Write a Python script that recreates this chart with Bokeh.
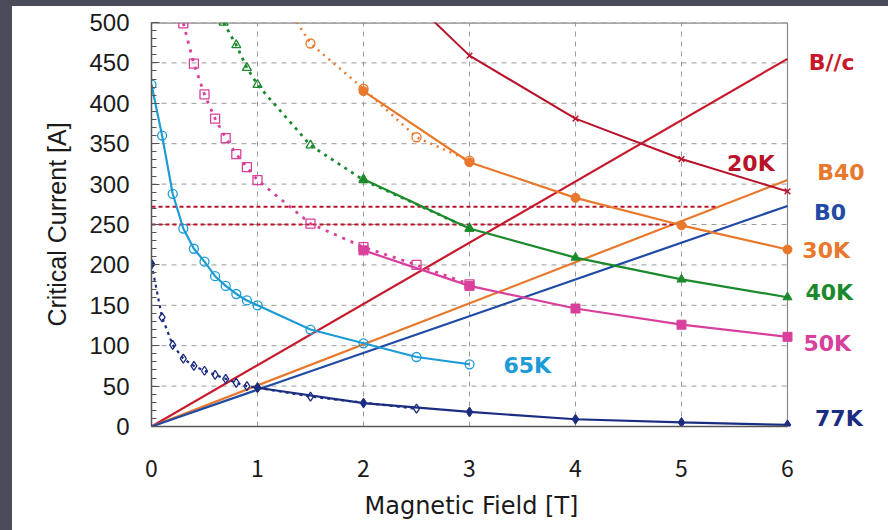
from bokeh.plotting import figure
from bokeh.models import Label, Range1d, FixedTicker, SingleIntervalTicker, Spacer, Title
from bokeh.layouts import row, column
from bokeh.embed import file_html
from bokeh.resources import INLINE

# ---------------- data ----------------
x_ticks = [0, 1, 2, 3, 4, 5, 6]
y_grid = [50, 100, 150, 200, 250, 300, 350, 400, 450, 500]

bc_x = [0, 6]
bc_y = [0, 455]
b40_x = [0, 6]
b40_y = [0, 305]
b0_x = [0, 6]
b0_y = [0, 273]

hline_y = [272, 250]
hline_end = [5.35, 4.95]

k20_x = [2.5, 3, 4, 5, 6]
k20_y = [522, 459, 381, 331, 291]

k30_x = [2, 3, 4, 5, 6]
k30_y = [415, 327, 283, 249, 219]
k30_open_x = [1.3, 1.5, 2.0, 2.5, 3.0]
k30_open_y = [515, 474, 418, 358, 329]

k40_x = [2, 3, 4, 5, 6]
k40_y = [306, 245, 209, 182, 160]
k40_open_x = [0.68, 0.8, 0.9, 1.0, 1.5, 2.0, 3.0]
k40_open_y = [500, 472, 444, 423, 348, 305, 245]

k50_x = [2, 3, 4, 5, 6]
k50_y = [218, 174, 146, 126, 111]
k50_open_x = [0.3, 0.4, 0.5, 0.6, 0.7, 0.8, 0.9, 1.0, 1.5, 2.0, 2.5, 3.0]
k50_open_y = [499, 449, 411, 381, 357, 337, 321, 305, 251, 222, 200, 176]

k65_x = [0, 0.1, 0.2, 0.3, 0.4, 0.5, 0.6, 0.7, 0.8, 0.9, 1.0, 1.5, 2.0, 2.5, 3.0]
k65_y = [423, 360, 288, 245, 220, 204, 186, 174, 164, 156, 150, 120, 103, 86, 77]

k77_x = [1, 2, 3, 4, 5, 6]
k77_y = [48, 29, 18, 9, 5, 2]
k77_open_x = [0, 0.1, 0.2, 0.3, 0.4, 0.5, 0.6, 0.7, 0.8, 0.9, 1.0, 1.5, 2.5]
k77_open_y = [201, 135, 101, 84, 75, 69, 64, 59, 54, 50, 48, 37, 22]

series_labels = ["B//c", "20K", "B40", "B0", "30K", "40K", "50K", "65K", "77K"]

# ---------------- colours ----------------
RED = "#c8182c"
DRED = "#b9122b"
ORANGE = "#e8782c"
BLUE = "#1f4aa6"
GREEN = "#1b8a2c"
MAGENTA = "#d8409c"
CYAN = "#1c9bd6"
NAVY = "#1b2d82"
DARK = "#4a4c59"
FRAME = "#8a8a8a"

X_VIEW_MAX = 6.953   # frame continues right of 6 T to hold the curve labels

p = figure(width=876, height=524, x_range=Range1d(0, X_VIEW_MAX), y_range=Range1d(0, 500),
           output_backend="svg", toolbar_location=None,
           min_border_left=139, min_border_right=0, min_border_top=16, min_border_bottom=103)
p.background_fill_color = "white"
p.border_fill_color = "white"
p.outline_line_color = None

p.xaxis.ticker = FixedTicker(ticks=x_ticks)
p.xaxis.bounds = (0, 6)
p.yaxis.ticker = SingleIntervalTicker(interval=50, num_minor_ticks=5)
for ax in (p.xaxis, p.yaxis):
    ax.axis_line_color = "#555555"
    ax.axis_line_width = 1.5
    ax.major_tick_line_color = "#555555"
    ax.minor_tick_line_color = "#555555"
    ax.major_label_text_color = "#1a1a1a"
    ax.axis_label_text_color = "#1a1a1a"
    ax.axis_label_text_font_style = "normal"
p.xaxis.major_tick_in = 0
p.xaxis.major_tick_out = 0
p.xaxis.minor_tick_in = 0
p.xaxis.minor_tick_out = 0
p.yaxis.major_tick_in = 8
p.yaxis.major_tick_out = 0
p.yaxis.minor_tick_in = 5
p.yaxis.minor_tick_out = 0

p.yaxis.major_label_text_font = "Liberation Sans"
p.yaxis.major_label_text_font_size = "24px"
p.yaxis.major_label_standoff = 22
p.xaxis.major_label_text_font = "Noto Sans CJK JP"
p.xaxis.major_label_text_font_size = "23px"
p.xaxis.major_label_standoff = 33

p.yaxis.axis_label = "Critical Current [A]"
p.yaxis.axis_label_text_font = "Liberation Sans"
p.yaxis.axis_label_text_font_size = "25px"
p.yaxis.axis_label_standoff = 15

# x-axis title placed under the 0-6 T span (the frame runs on to hold the labels)
p.add_layout(Title(text="Magnetic Field [T]", align="left", offset=213, vertical_align="bottom",
                   text_font="DejaVu Sans", text_font_size="24px", text_font_style="normal",
                   text_color="#1a1a1a", standoff=21), "below")

p.xgrid.grid_line_color = "#9a9a9a"
p.xgrid.grid_line_dash = "5 5"
p.xgrid.grid_line_width = 1
p.ygrid.visible = False
# horizontal grid lines only across the 0-6 T data area
p.segment(x0=[0] * len(y_grid), x1=[6] * len(y_grid), y0=y_grid, y1=y_grid,
          line_color="#9a9a9a", line_dash="5 5", line_width=1)
# frame: top and right border at 500 A / 6 T
p.line([0, 6], [500, 500], line_color=FRAME, line_width=2.4)
p.line([6, 6], [0, 500], line_color=FRAME, line_width=1.2)

# straight load lines
p.line(bc_x, bc_y, line_color=RED, line_width=2.2)
p.line(b40_x, b40_y, line_color=ORANGE, line_width=2.2)
p.line(b0_x, b0_y, line_color=BLUE, line_width=2.2)

# horizontal dashed lines
for yy, xe in zip(hline_y, hline_end):
    p.line([0, xe], [yy, yy], line_color=DRED, line_width=2, line_dash="4 3")

# 20K
p.line(k20_x, k20_y, line_color=DRED, line_width=2)
p.scatter(k20_x, k20_y, marker="x", size=8, line_color=DRED, line_width=1.5)

# 30K
p.line(k30_open_x, k30_open_y, line_color=ORANGE, line_width=2.5, line_dash="2 5")
p.scatter(k30_open_x, k30_open_y, marker="circle", size=9, line_color=ORANGE, fill_color=None, line_width=1.3)
p.line(k30_x, k30_y, line_color=ORANGE, line_width=2.2)
p.scatter(k30_x, k30_y, marker="circle", size=9, line_color=ORANGE, fill_color=ORANGE)

# 40K
p.line(k40_open_x, k40_open_y, line_color=GREEN, line_width=2.8, line_dash="3 5")
p.scatter(k40_open_x, k40_open_y, marker="triangle", size=9, line_color=GREEN, fill_color=None, line_width=1.3)
p.line(k40_x, k40_y, line_color=GREEN, line_width=2.2)
p.scatter(k40_x, k40_y, marker="triangle", size=9, line_color=GREEN, fill_color=GREEN)

# 50K
p.line(k50_open_x, k50_open_y, line_color=MAGENTA, line_width=2.8, line_dash="3 6")
p.scatter(k50_open_x, k50_open_y, marker="square", size=9, line_color=MAGENTA, fill_color=None, line_width=1.3)
p.line(k50_x, k50_y, line_color=MAGENTA, line_width=2.2)
p.scatter(k50_x, k50_y, marker="square", size=9, line_color=MAGENTA, fill_color=MAGENTA)

# 65K
p.line(k65_x, k65_y, line_color=CYAN, line_width=2.2)
p.scatter(k65_x, k65_y, marker="circle", size=9, line_color=CYAN, fill_color=None, line_width=1.3)

# 77K
p.line(k77_open_x, k77_open_y, line_color=NAVY, line_width=2.2, line_dash="3 4")
p.scatter(k77_open_x, k77_open_y, marker="diamond", size=9, line_color=NAVY, fill_color=None, line_width=1.3)
p.line(k77_x, k77_y, line_color=NAVY, line_width=2.2)
p.scatter(k77_x, k77_y, marker="diamond", size=10, line_color=NAVY, fill_color=NAVY)
p.scatter(k77_open_x[:1], k77_open_y[:1], marker="diamond", size=10, line_color=NAVY, fill_color=NAVY)

# curve labels (data coordinates)
label_pos = [(6.20, 451), (5.43, 325), (6.28, 314), (6.25, 265), (6.14, 218),
             (6.17, 166), (6.15, 103), (3.32, 75), (6.26, 10)]
label_col = [RED, DRED, ORANGE, BLUE, ORANGE, GREEN, MAGENTA, CYAN, NAVY]
for txt, (lx, ly), col in zip(series_labels, label_pos, label_col):
    p.add_layout(Label(x=lx, y=ly, text=txt, text_color=col, text_font="DejaVu Sans",
                       text_font_size="22px", text_font_style="bold", text_baseline="middle"))

layout = row(Spacer(width=12, height=530, styles={"background-color": DARK}),
             column(Spacer(width=876, height=6, styles={"background-color": DARK}), p))

open("out.html", "w").write(file_html(layout, INLINE))
